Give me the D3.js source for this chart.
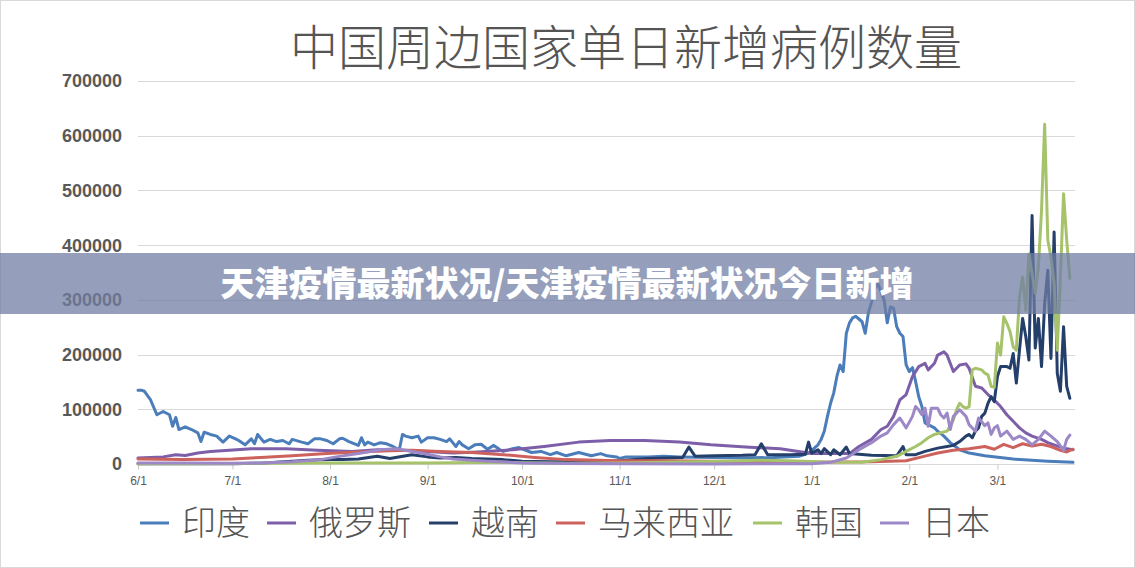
<!DOCTYPE html>
<html>
<head>
<meta charset="utf-8">
<script src="https://cdn.jsdelivr.net/npm/d3@7"></script>
<style>
	body { margin: 0; background: #fff; }
	svg { display: block; }
</style>
</head>
<body>
<div id="chart"></div>
<script>
	// daily new cases, thousands ("m/d", value)
	const india = [["6/1",135],["6/2",135],["6/3",133],["6/5",117],["6/7",90],["6/9",96],["6/11",90],["6/12",69],["6/13",85],["6/14",63],["6/16",68],["6/18",63],["6/20",57],["6/21",41],["6/22",58],["6/24",54],["6/26",51],["6/28",40],["6/30",51],["7/2",46],["7/3",43],["7/5",35],["7/7",46],["7/8",37],["7/9",54],["7/11",40],["7/13",45],["7/15",41],["7/17",43],["7/19",37],["7/20",45],["7/23",40],["7/25",37],["7/27",46],["7/29",46],["7/31",43],["8/2",37],["8/4",46],["8/5",47],["8/7",41],["8/10",34],["8/11",48],["8/12",35],["8/13",40],["8/15",35],["8/17",39],["8/19",37],["8/21",32],["8/23",26],["8/24",54],["8/25",51],["8/27",48],["8/29",51],["8/30",40],["9/1",48],["9/3",48],["9/5",45],["9/7",41],["9/8",46],["9/10",32],["9/11",41],["9/12",35],["9/14",28],["9/16",35],["9/18",36],["9/20",27],["9/22",34],["9/24",26],["9/25",23],["9/28",28],["9/30",30],["10/4",21],["10/7",23],["10/10",17],["10/12",21],["10/15",15],["10/19",21],["10/23",15],["10/26",19],["10/28",15],["10/31",13],["11/1",10],["11/3",13],["11/10",13],["11/15",14],["11/20",13],["12/1",12],["12/10",11],["12/20",12],["12/28",14],["12/31",20],["1/3",35],["1/4",45],["1/5",60],["1/6",87],["1/7",111],["1/8",130],["1/9",160],["1/10",181],["1/11",169],["1/12",239],["1/13",258],["1/14",267],["1/15",270],["1/16",265],["1/17",260],["1/18",239],["1/19",276],["1/20",296],["1/21",320],["1/22",330],["1/23",315],["1/24",300],["1/25",258],["1/26",287],["1/27",285],["1/28",251],["1/29",239],["1/30",233],["1/31",181],["2/1",169],["2/2",176],["2/3",151],["2/4",123],["2/5",105],["2/6",75],["2/7",72],["2/9",66],["2/10",60],["2/12",51],["2/14",39],["2/17",26],["2/20",20],["2/25",15],["3/6",9],["3/17",5],["3/25",3]];

	const russia = [["6/1",11],["6/9",13],["6/13",17],["6/16",15.5],["6/20",20],["6/24",23],["6/30",25],["7/7",28],["7/18",28],["7/28",25],["8/8",23],["8/16",26],["8/25",25],["9/9",20],["9/17",22],["9/28",26],["10/8",32],["10/19",40],["10/29",43],["11/9",43],["11/20",40],["11/30",35],["12/11",31],["12/22",28],["1/1",19],["1/13",19],["1/16",32],["1/20",45],["1/23",63],["1/25",69],["1/27",87],["1/29",117],["1/31",127],["2/2",160],["2/4",178],["2/6",184],["2/7",172],["2/9",184],["2/10",199],["2/12",205],["2/13",199],["2/15",169],["2/17",181],["2/19",183],["2/20",175],["2/22",142],["2/24",139],["2/26",127],["2/28",117],["3/2",105],["3/4",90],["3/6",78],["3/8",66],["3/10",57],["3/12",51],["3/15",45],["3/17",39],["3/19",35],["3/22",29],["3/25",26]];

	const vietnam = [["6/1",0.3],["6/20",0.3],["7/1",0.5],["7/10",1.5],["7/20",5],["7/25",7],["8/1",8],["8/5",8],["8/10",9],["8/16",14],["8/20",10],["8/27",17],["9/1",13],["9/5",11],["9/10",12],["9/15",10],["9/20",9],["9/25",8],["10/1",5],["10/10",4],["10/20",4],["11/1",6],["11/10",10],["11/21",12],["11/23",31],["11/25",14],["12/1",15],["12/10",16],["12/14",17],["12/16",37],["12/18",17],["12/25",17],["12/30",18],["12/31",40],["1/1",20],["1/3",26],["1/4",19],["1/5",28],["1/7",17],["1/8",26],["1/10",17],["1/12",31],["1/13",19],["1/20",16],["1/28",15],["1/30",32],["1/31",17],["2/3",17],["2/6",23],["2/10",29],["2/13",32],["2/15",34],["2/17",41],["2/19",51],["2/20",54],["2/21",48],["2/22",60],["2/23",66],["2/24",87],["2/25",93],["2/26",111],["2/27",123],["2/28",114],["3/1",160],["3/2",178],["3/4",178],["3/5",175],["3/6",202],["3/7",148],["3/8",208],["3/9",266],["3/10",233],["3/11",190],["3/12",454],["3/13",212],["3/14",266],["3/15",178],["3/16",293],["3/17",354],["3/18",193],["3/19",424],["3/20",166],["3/21",133],["3/22",251],["3/23",142],["3/24",120]];

	const malaysia = [["6/1",9],["6/15",8],["7/1",9],["7/10",12],["7/20",15],["7/31",19],["8/10",22],["8/20",24],["8/27",25],["9/5",23],["9/15",21],["9/25",17],["10/5",12],["10/15",8],["11/1",6],["11/15",6],["12/1",5],["12/15",4],["1/1",3],["1/20",4],["1/31",6],["2/5",13],["2/10",20],["2/15",25],["2/20",28],["2/25",32],["2/28",27],["3/3",36],["3/6",30],["3/9",37],["3/12",33],["3/15",36],["3/18",32],["3/21",25],["3/23",22],["3/25",27]];

	const korea = [["6/1",0.5],["7/1",0.8],["7/15",1.5],["8/1",1.8],["8/15",2],["9/1",1.8],["9/25",3],["10/1",2.5],["10/15",1.5],["11/1",2],["11/15",3],["11/25",4],["12/5",5],["12/15",7],["12/25",6],["1/5",3.5],["1/17",3],["1/23",8],["1/28",14],["1/31",23],["2/3",32],["2/5",39],["2/7",48],["2/9",54],["2/11",57],["2/13",60],["2/15",81],["2/16",99],["2/17",111],["2/18",105],["2/19",102],["2/20",105],["2/21",172],["2/22",175],["2/24",172],["2/25",166],["2/26",163],["2/27",142],["2/28",140],["3/1",221],["3/2",199],["3/3",269],["3/4",257],["3/5",242],["3/6",214],["3/7",208],["3/8",305],["3/9",342],["3/10",281],["3/11",384],["3/12",348],["3/13",312],["3/14",360],["3/15",463],["3/16",621],["3/17",409],["3/18",378],["3/19",330],["3/20",208],["3/21",342],["3/22",494],["3/23",409],["3/24",339]];

	const japan = [["6/1",2],["6/15",1.8],["7/1",1.5],["7/10",2],["7/20",4],["7/29",8],["8/3",13],["8/11",20],["8/17",26],["8/22",28],["8/27",23],["8/30",20],["9/5",13],["9/9",9],["9/20",5],["10/1",2],["10/15",0.7],["11/1",0.3],["12/1",0.2],["12/25",0.4],["1/1",0.6],["1/7",3],["1/12",11],["1/16",26],["1/20",39],["1/23",51],["1/25",57],["1/27",72],["1/29",84],["1/31",66],["2/2",87],["2/3",105],["2/4",99],["2/5",90],["2/6",102],["2/7",69],["2/8",102],["2/10",102],["2/11",90],["2/12",84],["2/13",93],["2/14",63],["2/15",87],["2/17",99],["2/19",87],["2/20",72],["2/22",60],["2/23",84],["2/25",70],["2/26",75],["2/27",54],["2/28",66],["3/1",70],["3/2",51],["3/4",60],["3/6",45],["3/8",51],["3/10",45],["3/12",35],["3/14",45],["3/16",60],["3/18",51],["3/20",41],["3/22",25],["3/23",45],["3/24",53]];

	const seriesnames = ["印度", "俄罗斯", "越南", "马来西亚", "韩国", "日本"];
	const seriesdata = [india, russia, vietnam, malaysia, korea, japan];
	const yticks = [0, 100000, 200000, 300000, 400000, 500000, 600000, 700000];
	const daterange = ["6/1", "3/25"];
	const charttitle = "中国周边国家单日新增病例数量";
	const bannertext = "天津疫情最新状况/天津疫情最新状况今日新增";

	const colors = ["#4a7dba", "#7d5ea8", "#253f6b", "#cd625d", "#a6c36b", "#9d88c7"];
	const textcolor = "#595959";

	const width = 1135, height = 568;
	const margin = {left: 138, right: 60, top: 81, bottom: 104};

	function parseday(s){
		let [m, d] = s.split("/").map(Number);
		return new Date(m >= 6 ? 2021 : 2022, m - 1, d);
	}

	var svg = d3.select("#chart").append("svg")
		.attr("width", width)
		.attr("height", height);

	svg.append("rect")
		.attr("x", 0.5).attr("y", 0.5)
		.attr("width", width - 1).attr("height", height - 1)
		.attr("fill", "#fff")
		.attr("stroke", "#d9d9d9");

	let xScale = d3.scaleTime()
		.domain(daterange.map(parseday))
		.range([margin.left, 1073]);
	let yScale = d3.scaleLinear()
		.domain([0, 700000])
		.range([464, margin.top]);
	let gridright = 1075;

	// title
	svg.append("text")
		.attr("x", 626)
		.attr("y", 48)
		.attr("dy", "0.35em")
		.attr("text-anchor", "middle")
		.style("font-family", "'Noto Sans CJK SC', sans-serif")
		.style("font-weight", 300)
		.style("font-size", "48px")
		.style("fill", "#555")
		.text(charttitle);

	// gridlines + y labels
	let ygroup = svg.append("g");
	ygroup.selectAll("line")
		.data(yticks)
		.join("line")
		.attr("x1", margin.left)
		.attr("x2", gridright)
		.attr("y1", d => Math.round(yScale(d)) + 0.5)
		.attr("y2", d => Math.round(yScale(d)) + 0.5)
		.attr("stroke", "#d9d9d9")
		.attr("stroke-width", 1);
	ygroup.selectAll("text")
		.data(yticks)
		.join("text")
		.attr("x", 122)
		.attr("y", d => yScale(d))
		.attr("dy", "0.36em")
		.attr("text-anchor", "end")
		.style("font-family", "'Liberation Sans', Arial, sans-serif")
		.style("font-weight", "bold")
		.style("font-size", "18px")
		.style("fill", textcolor)
		.text(d => d);

	// x axis
	let xAxis = svg.append("g")
		.attr("transform", `translate(0,${Math.round(yScale(0)) + 0.5})`)
		.call(d3.axisBottom(xScale)
			.ticks(d3.timeMonth.every(1))
			.tickFormat(d3.timeFormat("%-m/%-d"))
			.tickSize(5)
			.tickSizeOuter(0));
	xAxis.select(".domain").remove();
	xAxis.selectAll(".tick line").attr("stroke", "#c8c8c8");
	xAxis.selectAll(".tick text")
		.attr("y", 12)
		.style("font-family", "'Liberation Sans', Arial, sans-serif")
		.style("font-size", "12px")
		.style("fill", textcolor);

	// lines
	let drawline = d3.line()
		.x(d => xScale(parseday(d[0])))
		.y(d => yScale(d[1] * 1000));

	svg.append("g")
		.selectAll("path")
		.data(seriesdata)
		.join("path")
		.attr("d", d => drawline(d))
		.attr("fill", "none")
		.attr("stroke", (d, i) => colors[i])
		.attr("stroke-width", 3)
		.attr("stroke-linejoin", "round")
		.attr("stroke-linecap", "round");

	// legend
	let legend = svg.append("g");
	let lx = 140, ly = 523;
	seriesnames.forEach((name, i) => {
		legend.append("line")
			.attr("x1", lx).attr("x2", lx + 29)
			.attr("y1", ly).attr("y2", ly)
			.attr("stroke", colors[i])
			.attr("stroke-width", 3);
		legend.append("text")
			.attr("x", lx + 42)
			.attr("y", ly)
			.attr("dy", "0.36em")
			.style("font-family", "'Noto Sans CJK SC', sans-serif")
			.style("font-weight", 300)
			.style("font-size", "34px")
			.style("fill", "#555")
			.text(name);
		lx += 42 + name.length * 35 + 15;
	});

	// overlay banner
	svg.append("rect")
		.attr("x", 0).attr("y", 253)
		.attr("width", width).attr("height", 61)
		.attr("fill", "rgb(112,126,163)")
		.attr("fill-opacity", 0.74);
	svg.append("text")
		.attr("x", 567)
		.attr("y", 284)
		.attr("dy", "0.36em")
		.attr("text-anchor", "middle")
		.style("font-family", "'Noto Sans CJK SC', sans-serif")
		.style("font-weight", 900)
		.style("font-size", "34px")
		.style("fill", "#fff")
		.text(bannertext);
</script>
</body>
</html>
